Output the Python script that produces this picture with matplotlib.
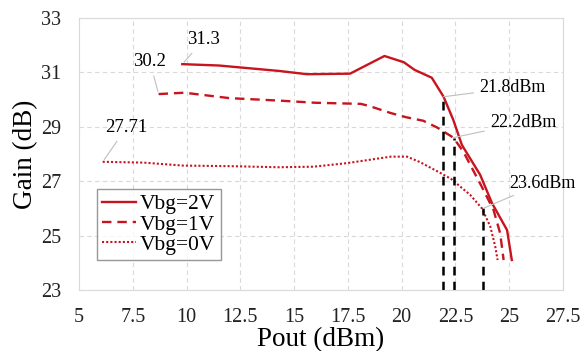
import matplotlib.pyplot as plt

plt.rcParams['font.family'] = 'Liberation Serif'

# Vbg=2V
p_2v = [9.8, 11.5, 14.3, 15.6, 17.6, 19.2, 20.1, 20.6, 21.4, 21.95, 22.4, 22.8, 23.65, 24.2, 24.9, 25.12]
g_2v = [31.3, 31.25, 31.05, 30.93, 30.95, 31.6, 31.37, 31.09, 30.8, 30.1, 29.25, 28.33, 27.23, 26.19, 25.2, 24.1]

# Vbg=1V
p_1v = [8.7, 9.9, 12.0, 14.3, 16.0, 18.1, 18.5, 19.5, 20.2, 21.0, 21.65, 22.4, 22.87, 23.72, 24.27, 24.58, 24.74]
g_1v = [30.2, 30.25, 30.05, 29.96, 29.88, 29.84, 29.76, 29.5, 29.35, 29.22, 28.97, 28.6, 28.08, 26.8, 25.94, 25.08, 24.1]

# Vbg=0V
p_0v = [6.1, 8.0, 9.85, 12.0, 14.3, 15.9, 17.45, 19.5, 20.25, 20.85, 21.8, 22.3, 23.19, 23.73, 24.12, 24.35, 24.46]
g_0v = [27.71, 27.68, 27.57, 27.55, 27.51, 27.53, 27.66, 27.9, 27.9, 27.7, 27.3, 27.08, 26.49, 26.0, 25.33, 24.6, 24.1]

# P1dB markers
p1db_x = [21.94, 22.41, 23.8]
p1db_y = [30.1, 28.6, 26.0]
p1db_txt = ['21.8dBm', '22.2dBm', '23.6dBm']
p1db_txt_xy = [(23.6, 30.43), (24.1, 29.14), (25.0, 26.93)]

red = '#C8141E'

fig = plt.figure(figsize=(5.81, 3.51), dpi=100)
ax = fig.add_axes([0.136, 0.174, 0.833, 0.775])

ax.plot(p_2v, g_2v, color=red, lw=1.7, label='Vbg=2V')
ax.plot(p_1v, g_1v, color=red, lw=1.7, ls=(0, (4, 2.5)), label='Vbg=1V')
ax.plot(p_0v, g_0v, color=red, lw=1.5, ls=(0, (1, 1)), label='Vbg=0V')

for x, y in zip(p1db_x, p1db_y):
    ax.plot([x, x], [23, y], color='black', lw=1.8, ls=(0, (3.5, 2.5)))

# leader-line labels
lc = '#BFBFBF'
ax.annotate('31.3', xy=(p_2v[0], g_2v[0]), xytext=(10.8, 32.19), fontsize=13.5,
            ha='center', va='center', arrowprops=dict(arrowstyle='-', color=lc, lw=0.8))
ax.annotate('30.2', xy=(p_1v[0], g_1v[0]), xytext=(8.3, 31.38), fontsize=13.5,
            ha='center', va='center', arrowprops=dict(arrowstyle='-', color=lc, lw=0.8))
ax.annotate('27.71', xy=(p_0v[0], g_0v[0]), xytext=(7.2, 28.96), fontsize=13.5,
            ha='center', va='center', arrowprops=dict(arrowstyle='-', color=lc, lw=0.8))
for x, y, t, (tx, ty) in zip(p1db_x, p1db_y, p1db_txt, p1db_txt_xy):
    ax.annotate(t, xy=(x, y), xytext=(tx, ty), fontsize=13, ha='left', va='center',
                arrowprops=dict(arrowstyle='-', color=lc, lw=0.8, shrinkA=2, shrinkB=0))

ax.set_xlim(5, 27.5)
ax.set_ylim(23, 33)
ax.set_xticks([5, 7.5, 10, 12.5, 15, 17.5, 20, 22.5, 25, 27.5])
ax.set_xticklabels(['5', '7.5', '10', '12.5', '15', '17.5', '20', '22.5', '25', '27.5'])
ax.set_yticks([23, 25, 27, 29, 31, 33])
ax.tick_params(length=0, labelsize=14.5, colors='#222222')
ax.tick_params(axis='x', pad=13)
ax.tick_params(axis='y', pad=13)
ax.grid(True, color='#D9D9D9', ls=(0, (4, 3)), lw=0.8)
for s in ax.spines.values():
    s.set_color('#D9D9D9')

ax.set_xlabel('Pout (dBm)', fontsize=19.5, labelpad=0)
ax.set_ylabel('Gain (dB)', fontsize=19.5, labelpad=2)

leg = ax.legend(loc='lower left', bbox_to_anchor=(0.037, 0.11), fontsize=15.5, frameon=True,
                fancybox=False, handlelength=1.55, handletextpad=0.2, borderpad=0.25,
                labelspacing=0.0, borderaxespad=0)
leg.get_frame().set_edgecolor('#7F7F7F')
leg.get_frame().set_linewidth(1.0)

fig.savefig('out.png', dpi=100)
